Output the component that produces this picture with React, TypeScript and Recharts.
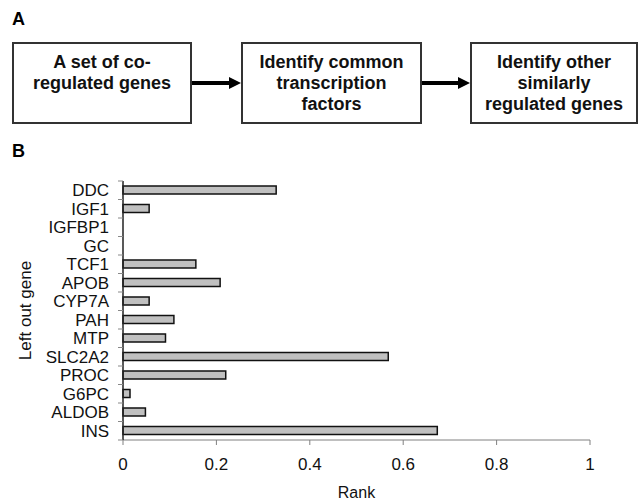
import React from "react";
import { BarChart, Bar, XAxis, YAxis, Label } from "recharts";

// Left-out genes, top to bottom as drawn
const genes = [
  "DDC",
  "IGF1",
  "IGFBP1",
  "GC",
  "TCF1",
  "APOB",
  "CYP7A",
  "PAH",
  "MTP",
  "SLC2A2",
  "PROC",
  "G6PC",
  "ALDOB",
  "INS",
];

// Rank of each left-out gene
const ranks = [0.328, 0.056, 0, 0, 0.156, 0.208, 0.056, 0.109, 0.091, 0.568, 0.22, 0.015, 0.048, 0.673];

const xTicks = [0, 0.2, 0.4, 0.6, 0.8, 1];

const steps = [
  ["A set of co-", "regulated genes"],
  ["Identify common", "transcription", "factors"],
  ["Identify other", "similarly", "regulated genes"],
];

const FONT = '"Liberation Sans", Arial, sans-serif';

const data = genes.map((gene, i) => ({ gene, rank: ranks[i] }));

// Category labels, with tick marks drawn between categories (Excel style)
function GeneTick(props: any) {
  const { x, y, payload, index, visibleTicksCount } = props;
  const half = payload && payload.offset ? payload.offset : 9.25;
  const isLast = index === visibleTicksCount - 1;
  return (
    <g>
      <line x1={x + 9} x2={x + 14} y1={y - half} y2={y - half} stroke="#888" />
      {isLast && <line x1={x + 9} x2={x + 14} y1={y + half} y2={y + half} stroke="#888" />}
      <text x={x} y={y} dy="0.36em" textAnchor="end" fontSize={17} fill="#111" fontFamily={FONT}>
        {payload.value}
      </text>
    </g>
  );
}

function Arrow({ left, width }: { left: number; width: number }) {
  return (
    <svg style={{ position: "absolute", left, top: 75 }} width={width} height={16}>
      <line x1={0} x2={width - 10} y1={8} y2={8} stroke="#000" strokeWidth={4} />
      <polygon points={`${width - 12},2 ${width},8 ${width - 12},14`} fill="#000" />
    </svg>
  );
}

function StepBox({ left, width, lines }: { left: number; width: number; lines: string[] }) {
  return (
    <div
      style={{
        position: "absolute",
        left,
        top: 42,
        width,
        height: 82,
        boxSizing: "border-box",
        border: "2px solid #333",
        paddingTop: 8,
        textAlign: "center",
        fontWeight: "bold",
        fontSize: 18,
        lineHeight: "21px",
        color: "#111",
      }}
    >
      {lines.map((l) => (
        <div key={l}>{l}</div>
      ))}
    </div>
  );
}

export default function App() {
  return (
    <div
      style={{
        position: "absolute",
        left: 0,
        top: 0,
        width: 639,
        height: 504,
        background: "#fff",
        fontFamily: FONT,
        overflow: "hidden",
      }}
    >
      <div style={{ position: "absolute", left: 12, top: 9, fontWeight: "bold", fontSize: 18 }}>A</div>
      <StepBox left={12} width={180} lines={steps[0]} />
      <Arrow left={192} width={49} />
      <StepBox left={241} width={181} lines={steps[1]} />
      <Arrow left={422} width={48} />
      <StepBox left={470} width={168} lines={steps[2]} />

      <div style={{ position: "absolute", left: 12, top: 141, fontWeight: "bold", fontSize: 18 }}>B</div>

      <div style={{ position: "absolute", left: 0, top: 0 }}>
        <BarChart
          width={639}
          height={504}
          data={data}
          layout="vertical"
          margin={{ top: 181, right: 49, bottom: 2, left: 0 }}
          barSize={8}
        >
          <XAxis
            type="number"
            dataKey="rank"
            domain={[0, 1]}
            ticks={xTicks}
            height={62}
            tickSize={5}
            tickMargin={13}
            axisLine={{ stroke: "#808080" }}
            tickLine={{ stroke: "#808080" }}
            tick={{ fontSize: 17, fill: "#111", fontFamily: FONT }}
          >
            <Label
              value="Rank"
              position="insideBottom"
              offset={4}
              style={{ fontSize: 16, fill: "#111", fontFamily: FONT }}
            />
          </XAxis>
          <XAxis
            xAxisId="top"
            orientation="top"
            type="number"
            domain={[0, 1]}
            height={0}
            tick={false}
            tickLine={false}
            axisLine={{ stroke: "#808080" }}
          />
          <YAxis
            type="category"
            dataKey="gene"
            width={123}
            tickSize={5}
            tickMargin={9}
            tickLine={false}
            axisLine={{ stroke: "#222", strokeWidth: 1.5 }}
            tick={<GeneTick />}
            interval={0}
          >
            <Label
              value="Left out gene"
              angle={-90}
              position="insideLeft"
              offset={25}
              style={{ fontSize: 17, fill: "#111", fontFamily: FONT, textAnchor: "middle" }}
            />
          </YAxis>
          <YAxis
            yAxisId="right"
            orientation="right"
            type="number"
            domain={[0, 1]}
            width={0}
            tick={false}
            tickLine={false}
            axisLine={{ stroke: "#808080" }}
          />
          <Bar dataKey="rank" fill="#c0c0c0" stroke="#111" strokeWidth={1.5} isAnimationActive={false} />
        </BarChart>
      </div>
    </div>
  );
}
